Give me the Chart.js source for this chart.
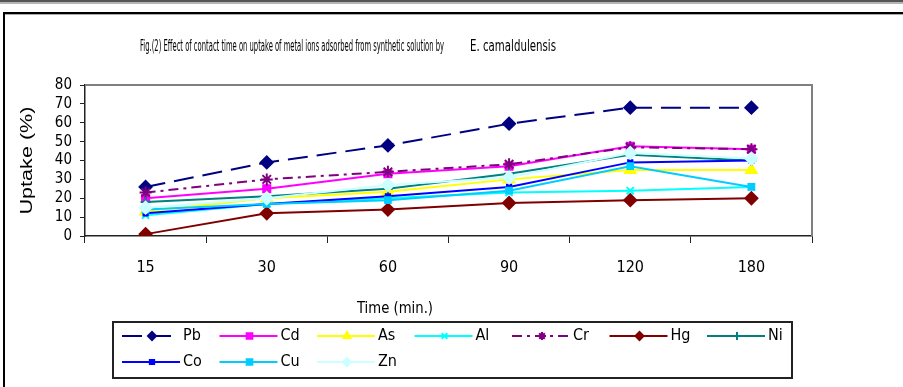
<!DOCTYPE html>
<html>
<head>
<meta charset="utf-8">
<script src="https://cdn.jsdelivr.net/npm/chart.js@4.4.1/dist/chart.umd.min.js"></script>
<style>
    html, body { margin: 0; padding: 0; background: #fff; }
    #wrap { width: 903px; height: 387px; }
</style>
</head>
<body>
<div id="wrap"><canvas id="uptakeChart" width="903" height="387"></canvas></div>
<script>
// data (uptake %, per contact time)
const timeLabels = ['15', '30', '60', '90', '120', '180'];
const metalNames = ['Pb', 'Cd', 'As', 'Al', 'Cr', 'Hg', 'Ni', 'Co', 'Cu', 'Zn'];
const pbUptake = [26, 39, 48, 59.5, 68, 68];
const cdUptake = [20, 25, 33, 37, 47.5, 46];
const asUptake = [13, 20, 23.5, 30, 35, 35];
const alUptake = [11, 17, 20, 23, 24, 26];
const crUptake = [23, 30, 34, 38, 47, 46];
const hgUptake = [1, 12, 14, 17.5, 19, 20];
const niUptake = [18, 21, 25, 33, 43, 40];
const coUptake = [12, 17, 21, 26, 39, 40];
const cuUptake = [14, 17, 19, 24, 37, 26];
const znUptake = [15, 20, 27, 31, 44, 41];
const yMin = 0, yMax = 80, yStep = 10;

const titleMain = 'Fig.(2) Effect of contact time on uptake of metal ions adsorbed from synthetic solution by';
const titleSpecies = 'E. camaldulensis';
const xTitle = 'Time (min.)';
const yTitle = 'Uptake (%)';

const NARROW = '"Liberation Sans Narrow", "DejaVu Sans Condensed", Arial, sans-serif';
const SANS = '"Liberation Sans", Arial, sans-serif';

const seriesValues = [pbUptake, cdUptake, asUptake, alUptake, crUptake,
                      hgUptake, niUptake, coUptake, cuUptake, znUptake];

// Excel-ish styling for each series
const seriesStyles = [
    { color: '#000080', point: 'rectRot',  radius: 6, dash: [20, 9] },
    { color: '#FF00FF', point: 'rect',     radius: 5, dash: [] },
    { color: '#FFFF00', point: 'triangle', radius: 6, dash: [] },
    { color: '#00FFFF', point: 'crossRot', radius: 5, dash: [] },
    { color: '#800080', point: 'star',     radius: 6, dash: [10, 5, 3, 5] },
    { color: '#800000', point: 'rectRot',  radius: 6, dash: [] },
    { color: '#008080', point: 'cross',    radius: 5, dash: [] },
    { color: '#0000FF', point: 'rect',     radius: 3, dash: [] },
    { color: '#00CCFF', point: 'rect',     radius: 4, dash: [] },
    { color: '#CCFFFF', point: 'rectRot',  radius: 6, dash: [] }
];

const datasets = metalNames.map(function (name, i) {
    const s = seriesStyles[i];
    return {
        label: name,
        data: seriesValues[i],
        borderColor: s.color,
        backgroundColor: s.color,
        borderWidth: 2,
        borderDash: s.dash,
        pointStyle: s.point,
        pointRadius: s.radius,
        pointBorderWidth: 2,
        pointBorderColor: s.color,
        pointBackgroundColor: s.color,
        tension: 0,
        order: metalNames.length - i   // later series on top, like Excel
    };
});

// draw text squeezed/stretched to a given width
function fitText(ctx, text, cx, cy, width) {
    const w = ctx.measureText(text).width;
    ctx.save();
    ctx.translate(cx, cy);
    ctx.scale(width / w, 1);
    ctx.fillText(text, 0, 0);
    ctx.restore();
}

const framePlugin = {
    id: 'frame',
    beforeDraw(chart) {
        const ctx = chart.ctx;
        ctx.save();
        ctx.fillStyle = '#fff';
        ctx.fillRect(0, 0, chart.width, chart.height);
        ctx.fillStyle = '#555';
        ctx.fillRect(0, 0, chart.width, 2);
        ctx.fillStyle = '#b5b5b5';
        ctx.fillRect(0, 2, chart.width, 2);
        ctx.fillStyle = '#000';
        ctx.fillRect(3, 12, chart.width - 3, 2);
        ctx.fillRect(3, 12, 2, chart.height - 12);
        ctx.fillStyle = '#aaa';
        ctx.fillRect(5, 14, chart.width - 5, 1);
        ctx.restore();
    },
    beforeDatasetsDraw(chart) {
        const a = chart.chartArea;
        const ctx = chart.ctx;
        ctx.save();
        ctx.strokeStyle = '#808080';
        ctx.lineWidth = 2;
        ctx.beginPath();
        ctx.moveTo(a.left, a.top);
        ctx.lineTo(a.right, a.top);
        ctx.lineTo(a.right, a.bottom);
        ctx.stroke();
        ctx.restore();
    }
};

const textPlugin = {
    id: 'texts',
    afterDraw(chart) {
        const ctx = chart.ctx;
        const a = chart.chartArea;
        ctx.save();
        ctx.fillStyle = '#000';
        ctx.textBaseline = 'middle';
        ctx.textAlign = 'center';

        // chart title, heavily condensed as in the figure
        ctx.font = '16px ' + NARROW;
        fitText(ctx, titleMain, 140 + 152, 47, 304);
        fitText(ctx, titleSpecies, 470 + 43, 47, 86);

        // x axis title
        ctx.font = '16px ' + NARROW;
        fitText(ctx, xTitle, 395, 309, 76);

        // y axis title (rotated)
        ctx.save();
        ctx.translate(28, (a.top + a.bottom) / 2);
        ctx.rotate(-Math.PI / 2);
        ctx.font = '16px ' + SANS;
        fitText(ctx, yTitle, 0, 0, 108);
        ctx.restore();
        ctx.restore();
    }
};

// legend in a boxed two-row grid, line + marker samples
const legendPlugin = {
    id: 'boxLegend',
    afterDraw(chart) {
        const ctx = chart.ctx;
        const helpers = Chart.helpers;
        ctx.save();
        ctx.strokeStyle = '#222';
        ctx.lineWidth = 2;
        ctx.strokeRect(113, 322, 679, 56);

        chart.data.datasets.forEach(function (ds, i) {
            const col = i % 7;
            const row = Math.floor(i / 7);
            const x0 = 122 + col * 97.5;
            const y = row === 0 ? 336 : 362;
            ctx.strokeStyle = ds.borderColor;
            ctx.fillStyle = ds.borderColor;
            ctx.lineWidth = 2;
            ctx.setLineDash(ds.borderDash || []);
            ctx.beginPath();
            ctx.moveTo(x0, y);
            ctx.lineTo(x0 + 58, y);
            ctx.stroke();
            ctx.setLineDash([]);
            helpers.drawPoint(ctx, {
                pointStyle: ds.pointStyle,
                radius: Math.min(ds.pointRadius, 4),
                rotation: 0,
                borderWidth: 1.5
            }, x0 + 30, y);

            ctx.fillStyle = '#000';
            ctx.font = '16px ' + NARROW;
            ctx.textAlign = 'left';
            ctx.textBaseline = 'middle';
            ctx.fillText(ds.label, x0 + 61, y);
        });
        ctx.restore();
    }
};

const uptakeChart = new Chart(document.getElementById('uptakeChart'), {
    type: 'line',
    data: {
        labels: timeLabels,
        datasets: datasets
    },
    options: {
        responsive: false,
        animation: false,
        events: [],
        layout: {
            padding: { left: 0, top: 85, right: 91, bottom: 111 }
        },
        plugins: {
            legend: { display: false },
            title: { display: false },
            tooltip: { enabled: false }
        },
        scales: {
            x: {
                offset: true,
                afterFit: function (s) { s.height = 40; },
                grid: {
                    offset: true,
                    drawOnChartArea: false,
                    drawTicks: true,
                    tickLength: 7,
                    color: '#222'
                },
                border: { display: true, color: '#222', width: 1.5 },
                ticks: {
                    color: '#000',
                    padding: 15,
                    maxRotation: 0,
                    font: { family: NARROW, size: 16 }
                }
            },
            y: {
                min: yMin,
                max: yMax,
                afterFit: function (s) { s.width = 85; },
                grid: {
                    drawOnChartArea: false,
                    drawTicks: true,
                    tickLength: 5,
                    color: '#222'
                },
                border: { display: true, color: '#222', width: 1.5 },
                ticks: {
                    stepSize: yStep,
                    autoSkip: false,
                    color: '#000',
                    padding: 8,
                    font: { family: NARROW, size: 15 }
                }
            }
        }
    },
    plugins: [framePlugin, textPlugin, legendPlugin]
});
</script>
</body>
</html>
